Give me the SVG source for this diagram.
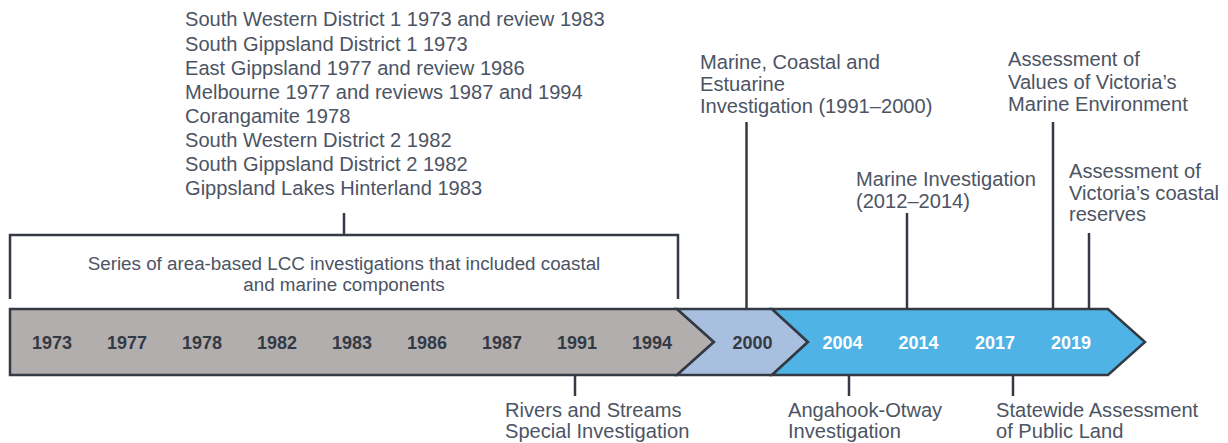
<svg xmlns="http://www.w3.org/2000/svg" width="1228" height="443" viewBox="0 0 1228 443">
<style>
.lbl{font-family:"Liberation Sans",Arial,sans-serif;font-size:20.1px;fill:#4c5464}
.br{font-family:"Liberation Sans",Arial,sans-serif;font-size:18.8px;fill:#4c5464;text-anchor:middle}
.yr{font-family:"Liberation Sans",Arial,sans-serif;font-size:18px;font-weight:bold;fill:#343a44;text-anchor:middle}
.yw{fill:#ffffff}
.ln{stroke:#343a44;stroke-width:2.5;fill:none}
.seg{stroke:#343a44;stroke-width:2.5;stroke-linejoin:miter}
</style>
<rect width="1228" height="443" fill="#ffffff"/>
<g id="band">
<polygon class="seg" fill="#b3aeae" points="10,309 677,309 714,342 677,375 10,375"/>
<polygon class="seg" fill="#a9bfdf" points="677,309 772,309 808,342 772,375 677,375 714,342"/>
<polygon class="seg" fill="#4fb3e6" points="772,309 1108,309 1145,342 1108,375 772,375 808,342"/>
<text class="yr" x="52" y="349">1973</text>
<text class="yr" x="127" y="349">1977</text>
<text class="yr" x="202" y="349">1978</text>
<text class="yr" x="277" y="349">1982</text>
<text class="yr" x="352" y="349">1983</text>
<text class="yr" x="427" y="349">1986</text>
<text class="yr" x="502" y="349">1987</text>
<text class="yr" x="577" y="349">1991</text>
<text class="yr" x="652" y="349">1994</text>
<text class="yr" x="752.5" y="349">2000</text>
<text class="yr yw" x="842.5" y="349">2004</text>
<text class="yr yw" x="918.5" y="349">2014</text>
<text class="yr yw" x="995" y="349">2017</text>
<text class="yr yw" x="1071" y="349">2019</text>
</g>
<g id="connectors">
<path class="ln" d="M10,299 V235 H678 V299"/>
<path class="ln" d="M344,213 V235"/>
<path class="ln" d="M746.5,122 V309"/>
<path class="ln" d="M907,213 V309"/>
<path class="ln" d="M1053,122 V309"/>
<path class="ln" d="M1089,233 V309"/>
<path class="ln" d="M575,375 V396"/>
<path class="ln" d="M849,375 V396"/>
<path class="ln" d="M1013,375 V396"/>
</g>
<g id="lcc-list">
<text class="lbl" x="185" y="26">South Western District 1 1973 and review 1983</text>
<text class="lbl" x="185" y="50.5">South Gippsland District 1 1973</text>
<text class="lbl" x="185" y="74.5">East Gippsland 1977 and review 1986</text>
<text class="lbl" x="185" y="98.5">Melbourne 1977 and reviews 1987 and 1994</text>
<text class="lbl" x="185" y="122.5">Corangamite 1978</text>
<text class="lbl" x="185" y="146.5">South Western District 2 1982</text>
<text class="lbl" x="185" y="170.5">South Gippsland District 2 1982</text>
<text class="lbl" x="185" y="194.5">Gippsland Lakes Hinterland 1983</text>
</g>
<g id="series">
<text class="br" x="344" y="270">Series of area-based LCC investigations that included coastal</text>
<text class="br" x="344" y="291">and marine components</text>
</g>
<g id="mcei">
<text class="lbl" x="700" y="69">Marine, Coastal and</text>
<text class="lbl" x="700" y="91">Estuarine</text>
<text class="lbl" x="700" y="113">Investigation (1991–2000)</text>
</g>
<g id="marine-inv">
<text class="lbl" x="856" y="186">Marine Investigation</text>
<text class="lbl" x="856" y="208">(2012–2014)</text>
</g>
<g id="values-marine">
<text class="lbl" x="1008" y="66">Assessment of</text>
<text class="lbl" x="1008" y="88.5">Values of Victoria’s</text>
<text class="lbl" x="1008" y="110.5">Marine Environment</text>
</g>
<g id="coastal-reserves">
<text class="lbl" x="1069" y="178">Assessment of</text>
<text class="lbl" x="1069" y="200">Victoria’s coastal</text>
<text class="lbl" x="1069" y="221">reserves</text>
</g>
<g id="rivers">
<text class="lbl" x="505" y="417">Rivers and Streams</text>
<text class="lbl" x="505" y="438">Special Investigation</text>
</g>
<g id="angahook">
<text class="lbl" x="788" y="417">Angahook-Otway</text>
<text class="lbl" x="788" y="438">Investigation</text>
</g>
<g id="statewide">
<text class="lbl" x="996" y="417">Statewide Assessment</text>
<text class="lbl" x="996" y="438">of Public Land</text>
</g>
</svg>
